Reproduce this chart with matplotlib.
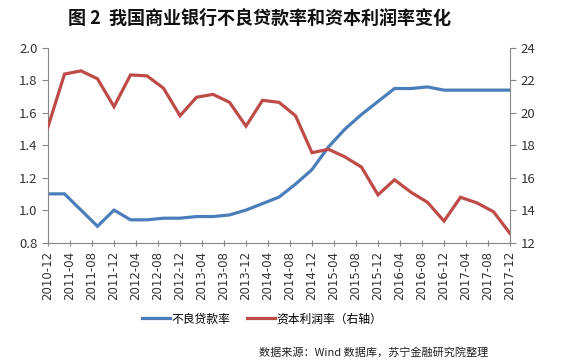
import matplotlib
matplotlib.use("Agg")
import matplotlib.pyplot as plt
import numpy as np

plt.rcParams['font.family'] = ['Noto Sans CJK SC', 'DejaVu Sans']

quarters = ["2010-12", "2011-03", "2011-06", "2011-09", "2011-12", "2012-03", "2012-06",
            "2012-09", "2012-12", "2013-03", "2013-06", "2013-09", "2013-12", "2014-03",
            "2014-06", "2014-09", "2014-12", "2015-03", "2015-06", "2015-09", "2015-12",
            "2016-03", "2016-06", "2016-09", "2016-12", "2017-03", "2017-06", "2017-09",
            "2017-12"]
npl = [1.10, 1.10, 1.00, 0.90, 1.00, 0.94, 0.94, 0.95, 0.95, 0.96, 0.96, 0.97, 1.00,
       1.04, 1.08, 1.16, 1.25, 1.39, 1.50, 1.59, 1.67, 1.75, 1.75, 1.76, 1.74, 1.74,
       1.74, 1.74, 1.74]
roe = [19.14, 22.39, 22.59, 22.10, 20.38, 22.34, 22.28, 21.52, 19.82, 20.96, 21.14,
       20.65, 19.18, 20.77, 20.65, 19.82, 17.54, 17.75, 17.28, 16.65, 14.94, 15.87,
       15.10, 14.48, 13.32, 14.79, 14.44, 13.90, 12.56]
tick_labels = ["2010-12", "2011-04", "2011-08", "2011-12", "2012-04", "2012-08", "2012-12",
               "2013-04", "2013-08", "2013-12", "2014-04", "2014-08", "2014-12", "2015-04",
               "2015-08", "2015-12", "2016-04", "2016-08", "2016-12", "2017-04", "2017-08",
               "2017-12"]

def month_index(s):
    y, m = s.split("-")
    return (int(y) - 2010) * 12 + int(m) - 12

x = [month_index(q) for q in quarters]
xt = [month_index(t) for t in tick_labels]

blue = "#4A7EBB"
red = "#BE4B48"
grey = "#868686"

fig = plt.figure(figsize=(5.7, 3.61), dpi=100)
ax = fig.add_axes([48/570, 1 - 242.5/361, (510-48)/570, (242.5-48)/361])
ax2 = ax.twinx()

l1, = ax.plot(x, npl, color=blue, lw=2.3, solid_joinstyle='miter')
l2, = ax2.plot(x, roe, color=red, lw=2.3, solid_joinstyle='miter')

ax.set_xlim(0, 84)
ax.set_ylim(0.8, 2.0)
ax.set_yticks(np.arange(0.8, 2.01, 0.2))
ax.set_yticklabels([f"{v:.1f}" for v in np.arange(0.8, 2.01, 0.2)])
ax2.set_ylim(12, 24)
ax2.set_yticks(range(12, 25, 2))
ax.set_xticks(xt)
ax.set_xticklabels(tick_labels, rotation=90, family='DejaVu Sans')

for a in (ax, ax2):
    a.spines['top'].set_visible(False)
    for s in ('left', 'right', 'bottom'):
        a.spines[s].set_color(grey)
        a.spines[s].set_linewidth(0.8)
ax.spines['right'].set_visible(False)
ax2.spines['left'].set_visible(False)
ax2.spines['bottom'].set_visible(False)

ax.tick_params(axis='y', colors=grey, labelcolor='#333333', labelsize=9.5, length=4, direction='out')
ax2.tick_params(axis='y', colors=grey, labelcolor='#333333', labelsize=9.5, length=4, direction='out')
ax.tick_params(axis='x', colors=grey, labelcolor='#333333', labelsize=8.5, length=5, direction='inout')

fig.text(260/570, 1 - 18/361, "图 2  我国商业银行不良贷款率和资本利润率变化",
         ha='center', va='center', fontsize=13, fontweight='heavy', color='#111111')

fig.legend([l1, l2], ["不良贷款率", "资本利润率（右轴）"], loc='center',
           bbox_to_anchor=(262/570, 1 - 319/361), ncol=2, frameon=False,
           fontsize=8.5, handlelength=2.4, handletextpad=0.1, columnspacing=1.4)

fig.text(488/570, 1 - 352/361, "数据来源：Wind 数据库，苏宁金融研究院整理",
         ha='right', va='center', fontsize=8, style='italic', color='#222222')

fig.savefig("out.png", dpi=100)
